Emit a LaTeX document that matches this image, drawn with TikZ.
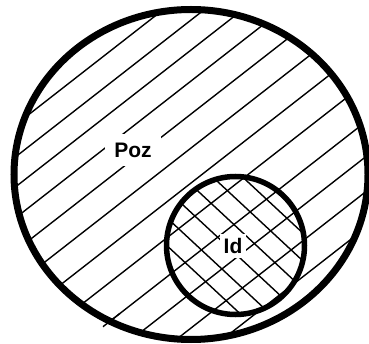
\documentclass[tikz,border=0pt]{standalone}
\usepackage{fontspec}
\setmainfont{Liberation Sans}

\begin{document}
\begin{tikzpicture}[x=1pt, y=-1pt,
    hatch/.style={line width=1.4pt},
    lbl/.style={fill=white, font=\bfseries\fontsize{21}{25}\selectfont}]
  \useasboundingbox (0,0) rectangle (369,344);
  % set Poz: single hatching
  \begin{scope}
    \clip (191,174.5) ellipse [x radius=177, y radius=165];
    \foreach \c in {137,169,199,230,263,297,332,368,407,442,477,513}
      \draw[hatch] (0,\c) -- (369,\c-287.8);
  \end{scope}
  \draw[hatch] (103,326.7) -- (120,313.4);
  % set Id: second hatching on top
  \begin{scope}
    \clip (235.5,245.5) circle [radius=69];
    \foreach \d in {-48.6,-20.8,7,34.8,62.6,90.4,118.2}
      \draw[hatch] (160,148.8+\d) -- (310,288.3+\d);
  \end{scope}
  % labels
  \node[lbl, inner sep=9pt] (poz) at (133,150) {Poz};
  \node[lbl, inner sep=4pt] (id) at (233,246) {Id};
  % borders
  \draw[line width=7pt] (191,174.5) ellipse [x radius=177, y radius=165];
  \draw[line width=5.5pt] (235.5,245.5) circle [radius=69];
\end{tikzpicture}
\end{document}
